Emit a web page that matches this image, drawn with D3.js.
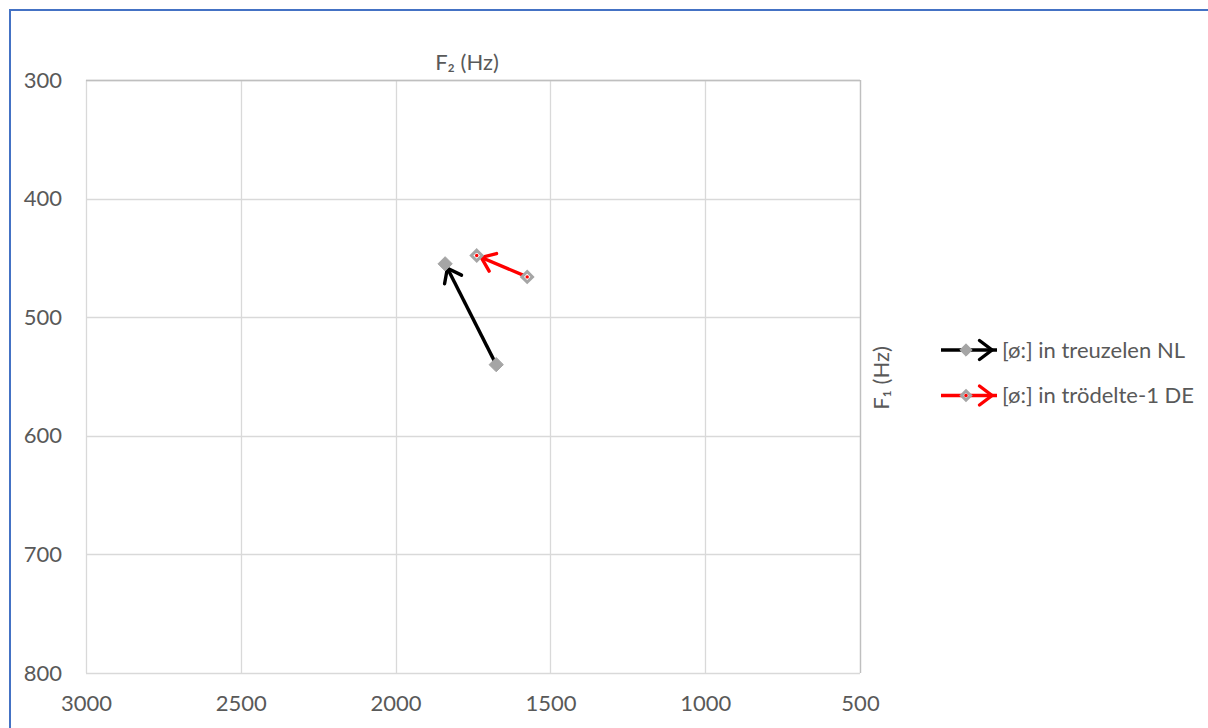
<!DOCTYPE html>
<html>
<head>
<meta charset="utf-8">
<script src="https://cdn.jsdelivr.net/npm/d3@7"></script>
<style>
  html, body { margin: 0; padding: 0; background: #fff; }
  svg { display: block; font-family: Lato, "Open Sans", sans-serif; }
</style>
</head>
<body>
<svg id="chart" width="1208" height="728"></svg>
<script>
// Formant trajectories: F2 on x (reversed), F1 on y (reversed)
const seriesNames = ["[ø:] in treuzelen NL", "[ø:] in trödelte-1 DE"];
const seriesColors = ["#000000", "#ff0000"];
const startF2 = [1675, 1575];
const startF1 = [540, 466];
const endF2 = [1840, 1738];
const endF1 = [455, 448];
const xTicks = [3000, 2500, 2000, 1500, 1000, 500];
const yTicks = [300, 400, 500, 600, 700, 800];

const FONT_SIZE = "22px";
const TEXT_COLOR = "#595959";

const svg = d3.select("#chart");
const plot = { left: 86, top: 80, right: 860, bottom: 673 };

const x = d3.scaleLinear().domain([3000, 500]).range([plot.left, plot.right]);
const y = d3.scaleLinear().domain([300, 800]).range([plot.top, plot.bottom]);

// chart frame
svg.append("rect")
  .attr("x", 10).attr("y", 10).attr("width", 1220).attr("height", 760)
  .attr("fill", "none").attr("stroke", "#4472C4").attr("stroke-width", 2);

// open arrowheads, tip set slightly back from the end point
const defs = svg.append("defs");
seriesColors.forEach((c, i) => {
  defs.append("marker")
    .attr("id", "arrow" + i)
    .attr("viewBox", "-16 -12 20 24")
    .attr("refX", 5).attr("refY", 0)
    .attr("markerWidth", 20).attr("markerHeight", 24)
    .attr("markerUnits", "userSpaceOnUse")
    .attr("orient", "auto")
    .style("overflow", "visible")
    .append("path")
    .attr("d", "M-12.5,-9.5 L0,0 L-12.5,9.5")
    .attr("fill", "none").attr("stroke", c).attr("stroke-width", 3.4)
    .attr("stroke-linecap", "round").attr("stroke-linejoin", "miter");
});

// gridlines
const grid = svg.append("g").attr("stroke", "#d9d9d9").attr("stroke-width", 1.3);
grid.selectAll("line.v").data(xTicks).join("line")
  .attr("x1", d => Math.round(x(d)) + 0.5).attr("x2", d => Math.round(x(d)) + 0.5)
  .attr("y1", plot.top).attr("y2", plot.bottom);
grid.selectAll("line.h").data(yTicks).join("line")
  .attr("y1", d => Math.round(y(d)) + 0.5).attr("y2", d => Math.round(y(d)) + 0.5)
  .attr("x1", plot.left).attr("x2", plot.right);
// darker axis lines (top and right)
svg.append("line").attr("x1", plot.left).attr("x2", plot.right)
  .attr("y1", plot.top + 0.5).attr("y2", plot.top + 0.5).attr("stroke", "#bfbfbf").attr("stroke-width", 1.3);
svg.append("line").attr("x1", plot.right + 0.5).attr("x2", plot.right + 0.5)
  .attr("y1", plot.top).attr("y2", plot.bottom).attr("stroke", "#bfbfbf").attr("stroke-width", 1.3);

// axes via d3
const xAxis = svg.append("g").attr("transform", `translate(0,${plot.bottom})`)
  .call(d3.axisBottom(x).tickValues(xTicks).tickSize(0).tickPadding(22).tickFormat(d3.format("d")));
const yAxis = svg.append("g").attr("transform", `translate(${plot.left},0)`)
  .call(d3.axisLeft(y).tickValues(yTicks).tickSize(0).tickPadding(24).tickFormat(d3.format("d")));
[xAxis, yAxis].forEach(a => {
  a.select(".domain").remove();
  a.selectAll("text").attr("fill", TEXT_COLOR).style("font-size", FONT_SIZE)
    .style("font-family", "Lato, 'Open Sans', sans-serif");
});

// axis titles
svg.append("text").attr("x", 467).attr("y", 70).attr("text-anchor", "middle")
  .attr("fill", TEXT_COLOR).style("font-size", FONT_SIZE)
  .text("F₂ (Hz)");
svg.append("text").attr("transform", "translate(889,378) rotate(-90)")
  .attr("text-anchor", "middle").attr("fill", TEXT_COLOR).style("font-size", FONT_SIZE)
  .text("F₁ (Hz)");

// trajectories
const data = seriesNames.map((n, i) => ({
  name: n, color: seriesColors[i],
  pts: [[startF2[i], startF1[i]], [endF2[i], endF1[i]]]
}));

const diamond = d3.symbol().type(d3.symbolDiamond2);

function drawMarker(g, cx, cy, i, scale) {
  if (i === 0) {
    g.append("path").attr("d", diamond.size(130 * scale)())
      .attr("transform", `translate(${cx},${cy})`)
      .attr("fill", "#a5a5a5").attr("stroke", "#a5a5a5").attr("stroke-width", 1);
  } else {
    g.append("path").attr("d", diamond.size(72 * scale)())
      .attr("transform", `translate(${cx},${cy})`)
      .attr("fill", "#ffffff").attr("stroke", "#a5a5a5").attr("stroke-width", 3);
    g.append("circle").attr("cx", cx).attr("cy", cy).attr("r", 1.7).attr("fill", "#ff0000");
  }
}

data.forEach((s, i) => {
  const g = svg.append("g");
  g.append("line")
    .attr("x1", x(s.pts[0][0])).attr("y1", y(s.pts[0][1]))
    .attr("x2", x(s.pts[1][0])).attr("y2", y(s.pts[1][1]))
    .attr("stroke", s.color).attr("stroke-width", 3.4)
    .attr("marker-end", `url(#arrow${i})`);
  s.pts.forEach(p => drawMarker(g, x(p[0]), y(p[1]), i, 1));
});

// legend
const legend = svg.append("g");
data.forEach((s, i) => {
  const ly = 350 + i * 45.5;
  legend.append("line").attr("x1", 941).attr("x2", 997).attr("y1", ly).attr("y2", ly)
    .attr("stroke", s.color).attr("stroke-width", 3.4)
    .attr("marker-end", `url(#arrow${i})`);
  drawMarker(legend, 966, ly, i, 0.75);
  legend.append("text").attr("x", 1002).attr("y", ly).attr("dy", "0.35em")
    .attr("fill", TEXT_COLOR).style("font-size", FONT_SIZE).text(s.name);
});
</script>
</body>
</html>
